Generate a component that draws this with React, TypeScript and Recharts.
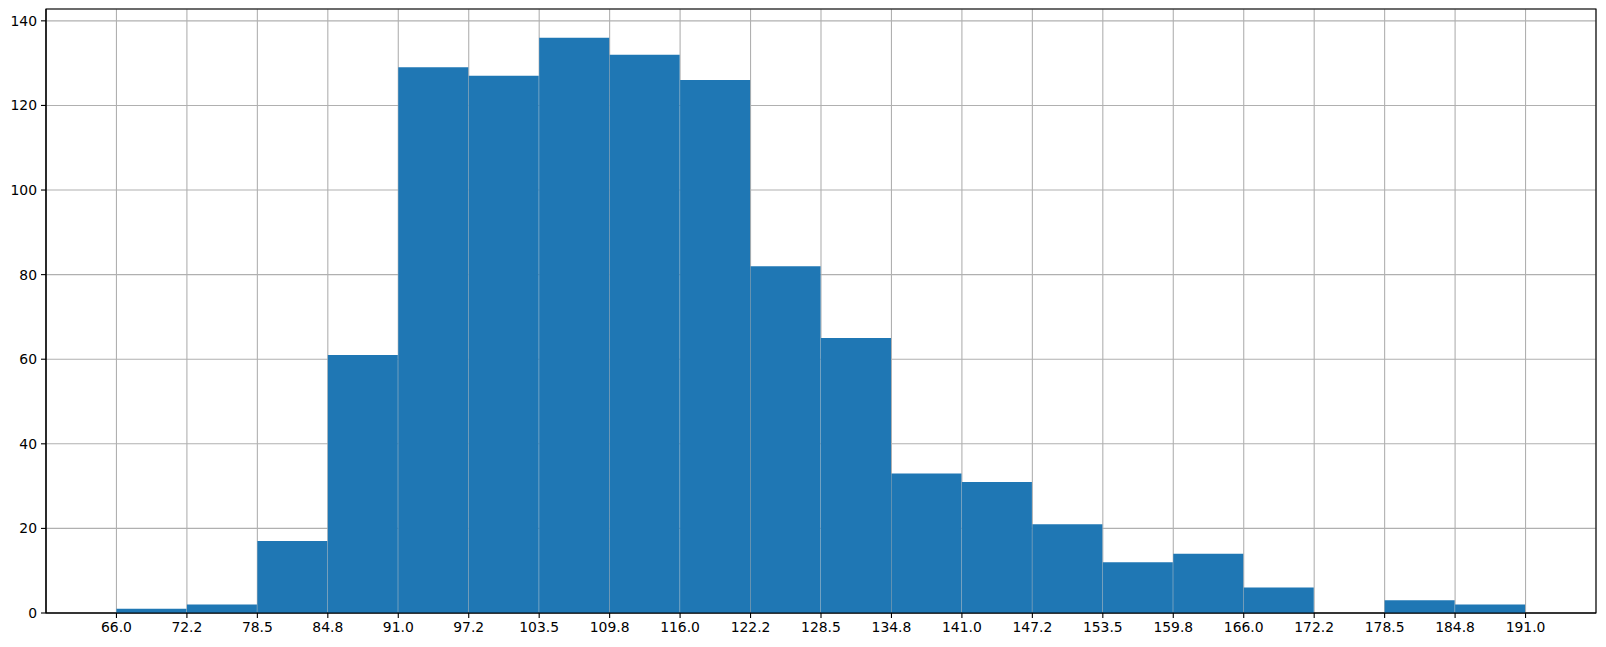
import React from "react";
import {
  ComposedChart,
  Bar,
  XAxis,
  YAxis,
  CartesianGrid,
  ReferenceArea,
} from "recharts";

// histogram: 20 bins of width 6.25 from 66 to 191
const BIN_MIDS = [
  69.125, 75.375, 81.625, 87.875, 94.125, 100.375, 106.625, 112.875, 119.125, 125.375,
  131.625, 137.875, 144.125, 150.375, 156.625, 162.875, 169.125, 175.375, 181.625, 187.875,
];
const COUNTS = [1, 2, 17, 61, 129, 127, 136, 132, 126, 82, 65, 33, 31, 21, 12, 14, 6, 0, 3, 2];

const EDGES = [
  66, 72.25, 78.5, 84.75, 91, 97.25, 103.5, 109.75, 116, 122.25, 128.5,
  134.75, 141, 147.25, 153.5, 159.75, 166, 172.25, 178.5, 184.75, 191,
];
const EDGE_LABELS = [
  "66.0", "72.2", "78.5", "84.8", "91.0", "97.2", "103.5", "109.8", "116.0", "122.2", "128.5",
  "134.8", "141.0", "147.2", "153.5", "159.8", "166.0", "172.2", "178.5", "184.8", "191.0",
];
const Y_TICKS = [0, 20, 40, 60, 80, 100, 120, 140];

const X_DOMAIN: [number, number] = [59.75, 197.25];
const Y_DOMAIN: [number, number] = [0, 142.8];

const data = BIN_MIDS.map((mid, i) => ({ mid, count: COUNTS[i] }));

const tickStyle = { fontSize: 13.9, fill: "#000", fontFamily: "DejaVu Sans" };

export default function App() {
  return (
    <div style={{ position: "absolute", left: 0, top: 0, background: "#fff" }}>
      <ComposedChart
        width={1606}
        height={647}
        data={data}
        barCategoryGap={0}
        barGap={0}
        margin={{ top: 9, right: 10, bottom: 0, left: 0 }}
      >
        <XAxis
          dataKey="mid"
          type="number"
          domain={X_DOMAIN}
          ticks={EDGES}
          interval={0}
          allowDataOverflow
          tickFormatter={(v: number) => EDGE_LABELS[EDGES.indexOf(v)] ?? String(v)}
          tick={tickStyle}
          tickSize={5}
          tickMargin={4}
          height={34}
          stroke="#000"
          axisLine={{ stroke: "#000", strokeWidth: 1.1 }}
          tickLine={{ stroke: "#000", strokeWidth: 1.1 }}
        />
        <YAxis
          type="number"
          domain={Y_DOMAIN}
          ticks={Y_TICKS}
          allowDataOverflow
          tick={tickStyle}
          tickSize={5}
          tickMargin={4}
          width={46}
          axisLine={{ stroke: "#000", strokeWidth: 1.1 }}
          tickLine={{ stroke: "#000", strokeWidth: 1.1 }}
        />
        <Bar dataKey="count" fill="#1f77b4" isAnimationActive={false} />
        <CartesianGrid
          stroke="#b0b0b0"
          strokeWidth={1.1}
          verticalPoints={undefined}
          horizontalPoints={undefined}
        />
        <ReferenceArea
          x1={X_DOMAIN[0]}
          x2={X_DOMAIN[1]}
          y1={Y_DOMAIN[0]}
          y2={Y_DOMAIN[1]}
          fill="none"
          stroke="#000"
          strokeWidth={1.1}
          fillOpacity={0}
        />
      </ComposedChart>
    </div>
  );
}
